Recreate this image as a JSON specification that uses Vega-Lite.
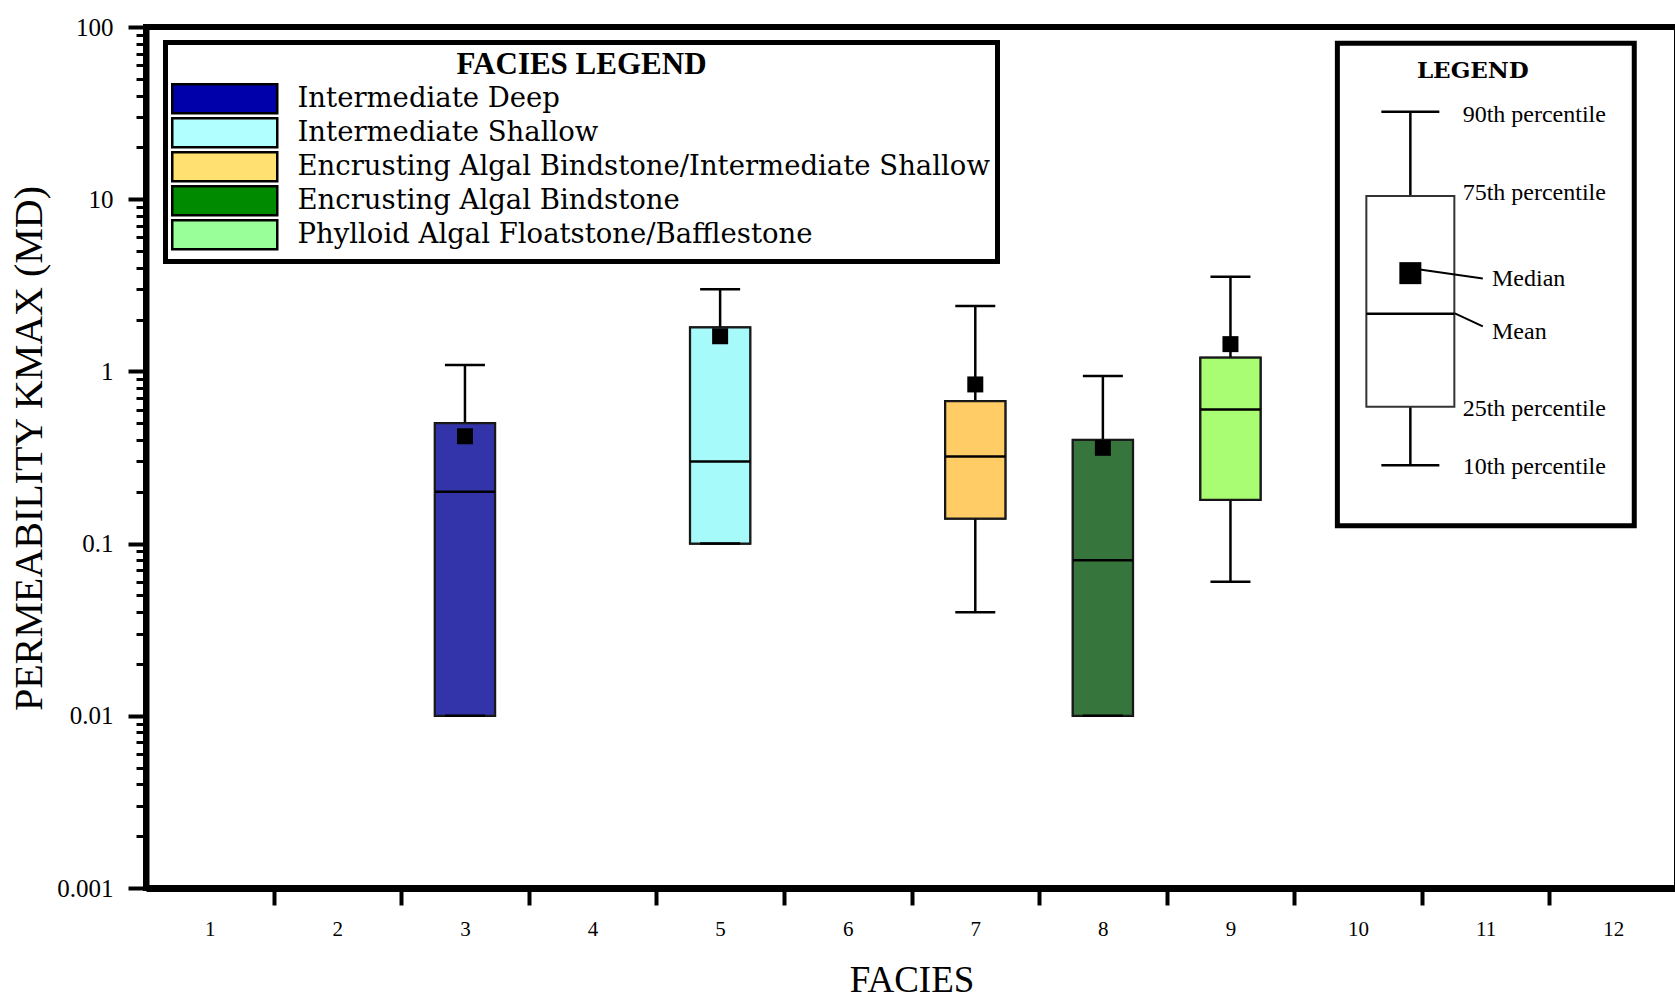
{
  "$schema": "https://vega.github.io/schema/vega-lite/v6.json",
  "width": 1531,
  "height": 861,
  "autosize": {"type": "none"},
  "padding": {"left": 146, "top": 27, "right": 0, "bottom": 112},
  "background": "white",
  "config": {
    "font": "Liberation Serif",
    "view": {"stroke": "black", "strokeWidth": 6}
  },
  "data": {
    "values": [
      {"facies": 3, "name": "Intermediate Deep", "p10": 0.01, "p25": 0.01, "mean": 0.2, "median": 0.42, "p75": 0.5, "p90": 1.09},
      {"facies": 5, "name": "Intermediate Shallow", "p10": 0.1, "p25": 0.1, "mean": 0.3, "median": 1.6, "p75": 1.8, "p90": 3.0},
      {"facies": 7, "name": "Encrusting Algal Bindstone/Intermediate Shallow", "p10": 0.04, "p25": 0.14, "mean": 0.32, "median": 0.84, "p75": 0.67, "p90": 2.4},
      {"facies": 8, "name": "Encrusting Algal Bindstone", "p10": 0.01, "p25": 0.01, "mean": 0.08, "median": 0.36, "p75": 0.4, "p90": 0.94},
      {"facies": 9, "name": "Phylloid Algal Floatstone/Bafflestone", "p10": 0.06, "p25": 0.18, "mean": 0.6, "median": 1.44, "p75": 1.2, "p90": 3.55}
    ]
  },
  "layer": [
    {
      "mark": {"type": "rule", "color": "black", "strokeWidth": 2.5},
      "encoding": {
        "x": {
          "field": "facies", "type": "quantitative",
          "scale": {"domain": [0.5, 12.5], "nice": false, "zero": false},
          "axis": {
            "title": "FACIES",
            "values": [1.5, 2.5, 3.5, 4.5, 5.5, 6.5, 7.5, 8.5, 9.5, 10.5, 11.5, 12.5],
            "labelExpr": "'' + (datum.value - 0.5)",
            "labelOffset": -63.8,
            "labelFlush": false, "labelOverlap": false, "labelBound": false,
            "labelFont": "Liberation Serif", "labelFontSize": 21, "labelColor": "black", "labelPadding": 13,
            "tickSize": 17, "tickWidth": 4, "tickColor": "black",
            "domainColor": "black", "domainWidth": 7, "grid": false,
            "titleFont": "Liberation Serif", "titleFontSize": 37, "titleFontWeight": "normal", "titleColor": "black", "titlePadding": 23
          }
        },
        "y": {
          "field": "p75", "type": "quantitative",
          "scale": {"type": "log", "domain": [0.001, 100], "nice": false},
          "axis": {
            "title": "PERMEABILITY KMAX (MD)",
            "values": [0.001,0.002,0.003,0.004,0.005,0.006,0.007,0.008,0.009,0.01,0.02,0.03,0.04,0.05,0.06,0.07,0.08,0.09,0.1,0.2,0.3,0.4,0.5,0.6,0.7,0.8,0.9,1,2,3,4,5,6,7,8,9,10,20,30,40,50,60,70,80,90,100],
            "labelExpr": "(datum.value == 0.001 || datum.value == 0.01 || datum.value == 0.1 || datum.value == 1 || datum.value == 10 || datum.value == 100) ? '' + datum.value : ''",
            "tickSize": {"condition": {"test": "datum.value == 0.001 || datum.value == 0.01 || datum.value == 0.1 || datum.value == 1 || datum.value == 10 || datum.value == 100", "value": 18}, "value": 10},
            "tickWidth": {"condition": {"test": "datum.value == 0.001 || datum.value == 0.01 || datum.value == 0.1 || datum.value == 1 || datum.value == 10 || datum.value == 100", "value": 4}, "value": 3},
            "tickColor": "black",
            "labelFont": "Liberation Serif", "labelFontSize": 25, "labelColor": "black", "labelPadding": 15,
            "labelOverlap": false, "labelBound": false, "labelFlush": false,
            "domainColor": "black", "domainWidth": 6, "grid": false,
            "titleFont": "Liberation Serif", "titleFontSize": 40, "titleFontWeight": "normal", "titleColor": "black", "titlePadding": 7,
            "titleY": 421
          }
        },
        "y2": {"field": "p90"}
      }
    },
    {
      "mark": {"type": "rule", "color": "black", "strokeWidth": 2.5},
      "encoding": {
        "x": {"field": "facies", "type": "quantitative"},
        "y": {"field": "p10", "type": "quantitative"},
        "y2": {"field": "p25"}
      }
    },
    {
      "mark": {"type": "rect", "stroke": "black", "strokeWidth": 2.5, "xOffset": -30, "x2Offset": 30},
      "encoding": {
        "x": {"field": "facies", "type": "quantitative"},
        "x2": {"field": "facies"},
        "y": {"field": "p25", "type": "quantitative"},
        "y2": {"field": "p75"},
        "color": {
          "field": "name", "type": "nominal",
          "scale": {
            "domain": ["Intermediate Deep", "Intermediate Shallow", "Encrusting Algal Bindstone/Intermediate Shallow", "Encrusting Algal Bindstone", "Phylloid Algal Floatstone/Bafflestone"],
            "range": ["#0000AA", "#B2FFFF", "#FFE070", "#008A00", "#99FF99"]
          },
          "legend": {
            "orient": "none", "legendX": 19.5, "legendY": 15.5, "direction": "vertical",
            "title": "FACIES LEGEND",
            "titleFont": "Liberation Serif", "titleFontSize": 31, "titleFontWeight": "bold", "titleAnchor": "middle", "titleColor": "black", "titlePadding": 4.5, "titleLimit": 1000,
            "labelFont": "DejaVu Serif", "labelFontSize": 27.5, "labelColor": "black", "labelLimit": 1000, "labelOffset": 59,
            "symbolType": "M-5.25,-1.45H5.25V1.45H-5.25Z", "symbolSize": 400, "symbolOffset": 38.5,
            "symbolStrokeColor": "black", "symbolStrokeWidth": 2.5, "symbolOpacity": 1,
            "rowPadding": -10, "padding": 7,
            "strokeColor": "black", "fillColor": "white",
            "encode": {"legend": {"update": {"strokeWidth": {"value": 5}}}}
          }
        }
      }
    },
    {
      "mark": {"type": "rect", "stroke": "#1a1a1a", "strokeWidth": 2, "xOffset": -30, "x2Offset": 30},
      "encoding": {
        "x": {"field": "facies", "type": "quantitative"},
        "x2": {"field": "facies"},
        "y": {"field": "p25", "type": "quantitative"},
        "y2": {"field": "p75"},
        "fill": {
          "field": "name", "type": "nominal",
          "scale": {
            "domain": ["Intermediate Deep", "Intermediate Shallow", "Encrusting Algal Bindstone/Intermediate Shallow", "Encrusting Algal Bindstone", "Phylloid Algal Floatstone/Bafflestone"],
            "range": ["#3333AA", "#A6FAFA", "#FFCC66", "#36763C", "#A9FD73"]
          },
          "legend": null
        }
      }
    },
    {
      "mark": {"type": "rule", "color": "black", "strokeWidth": 2.5, "xOffset": -30, "x2Offset": 30},
      "encoding": {
        "x": {"field": "facies", "type": "quantitative"},
        "x2": {"field": "facies"},
        "y": {"field": "mean", "type": "quantitative"}
      }
    },
    {
      "mark": {"type": "rule", "color": "black", "strokeWidth": 2.5, "xOffset": -20, "x2Offset": 20},
      "encoding": {
        "x": {"field": "facies", "type": "quantitative"},
        "x2": {"field": "facies"},
        "y": {"field": "p90", "type": "quantitative"}
      }
    },
    {
      "mark": {"type": "rule", "color": "black", "strokeWidth": 2.5, "xOffset": -20, "x2Offset": 20},
      "encoding": {
        "x": {"field": "facies", "type": "quantitative"},
        "x2": {"field": "facies"},
        "y": {"field": "p10", "type": "quantitative"}
      }
    },
    {
      "mark": {"type": "point", "shape": "square", "filled": true, "color": "black", "opacity": 1, "size": 256},
      "encoding": {
        "x": {"field": "facies", "type": "quantitative"},
        "y": {"field": "median", "type": "quantitative"}
      }
    },
    {
      "data": {"values": [{"box": "key"}]},
      "mark": {"type": "rect", "fill": "white", "stroke": "black", "strokeWidth": 5},
      "encoding": {
        "x": {"datum": 9.838, "type": "quantitative"},
        "x2": {"datum": 12.165},
        "y": {"datum": 80.5, "type": "quantitative"},
        "y2": {"datum": 0.1268}
      }
    },
    {
      "data": {"values": [{"p10": 0.285, "p25": 0.6226, "mean": 2.165, "median": 3.72, "p75": 10.45, "p90": 32.2}]},
      "layer": [
        {
          "mark": {"type": "rule", "color": "black", "strokeWidth": 2.5},
          "encoding": {
            "x": {"datum": 10.41, "type": "quantitative"},
            "y": {"field": "p75", "type": "quantitative"},
            "y2": {"field": "p90"}
          }
        },
        {
          "mark": {"type": "rule", "color": "black", "strokeWidth": 2.5},
          "encoding": {
            "x": {"datum": 10.41, "type": "quantitative"},
            "y": {"field": "p10", "type": "quantitative"},
            "y2": {"field": "p25"}
          }
        },
        {
          "mark": {"type": "rect", "fill": "white", "stroke": "#333333", "strokeWidth": 2, "xOffset": -44, "x2Offset": 44},
          "encoding": {
            "x": {"datum": 10.41, "type": "quantitative"},
            "x2": {"datum": 10.41},
            "y": {"field": "p25", "type": "quantitative"},
            "y2": {"field": "p75"}
          }
        },
        {
          "mark": {"type": "rule", "color": "black", "strokeWidth": 2.5, "xOffset": -44, "x2Offset": 44},
          "encoding": {
            "x": {"datum": 10.41, "type": "quantitative"},
            "x2": {"datum": 10.41},
            "y": {"field": "mean", "type": "quantitative"}
          }
        },
        {
          "mark": {"type": "rule", "color": "black", "strokeWidth": 2.5, "xOffset": -29, "x2Offset": 29},
          "encoding": {
            "x": {"datum": 10.41, "type": "quantitative"},
            "x2": {"datum": 10.41},
            "y": {"field": "p90", "type": "quantitative"}
          }
        },
        {
          "mark": {"type": "rule", "color": "black", "strokeWidth": 2.5, "xOffset": -29, "x2Offset": 29},
          "encoding": {
            "x": {"datum": 10.41, "type": "quantitative"},
            "x2": {"datum": 10.41},
            "y": {"field": "p10", "type": "quantitative"}
          }
        },
        {
          "mark": {"type": "point", "shape": "square", "filled": true, "color": "black", "opacity": 1, "size": 484},
          "encoding": {
            "x": {"datum": 10.41, "type": "quantitative"},
            "y": {"field": "median", "type": "quantitative"}
          }
        },
        {
          "mark": {"type": "rule", "color": "black", "strokeWidth": 2},
          "encoding": {
            "x": {"datum": 10.484, "type": "quantitative"},
            "x2": {"datum": 10.978},
            "y": {"datum": 3.91, "type": "quantitative"},
            "y2": {"datum": 3.467}
          }
        },
        {
          "mark": {"type": "rule", "color": "black", "strokeWidth": 2},
          "encoding": {
            "x": {"datum": 10.759, "type": "quantitative"},
            "x2": {"datum": 10.978},
            "y": {"datum": 2.174, "type": "quantitative"},
            "y2": {"datum": 1.827}
          }
        }
      ]
    },
    {
      "data": {"values": [
        {"t": "90th percentile", "v": 30.8},
        {"t": "75th percentile", "v": 10.9},
        {"t": "25th percentile", "v": 0.606},
        {"t": "10th percentile", "v": 0.2786}
      ]},
      "mark": {"type": "text", "align": "left", "baseline": "middle", "font": "Liberation Serif", "fontSize": 24, "color": "black"},
      "encoding": {
        "x": {"datum": 10.82, "type": "quantitative"},
        "y": {"field": "v", "type": "quantitative"},
        "text": {"field": "t"}
      }
    },
    {
      "data": {"values": [
        {"t": "Median", "v": 3.42},
        {"t": "Mean", "v": 1.687}
      ]},
      "mark": {"type": "text", "align": "left", "baseline": "middle", "font": "Liberation Serif", "fontSize": 24, "color": "black"},
      "encoding": {
        "x": {"datum": 11.05, "type": "quantitative"},
        "y": {"field": "v", "type": "quantitative"},
        "text": {"field": "t"}
      }
    },
    {
      "data": {"values": [{"t": "LEGEND", "v": 55.5}]},
      "mark": {"type": "text", "align": "center", "baseline": "middle", "font": "DejaVu Serif", "fontSize": 23, "fontWeight": "bold", "color": "black"},
      "encoding": {
        "x": {"datum": 10.9, "type": "quantitative"},
        "y": {"field": "v", "type": "quantitative"},
        "text": {"field": "t"}
      }
    }
  ]
}
